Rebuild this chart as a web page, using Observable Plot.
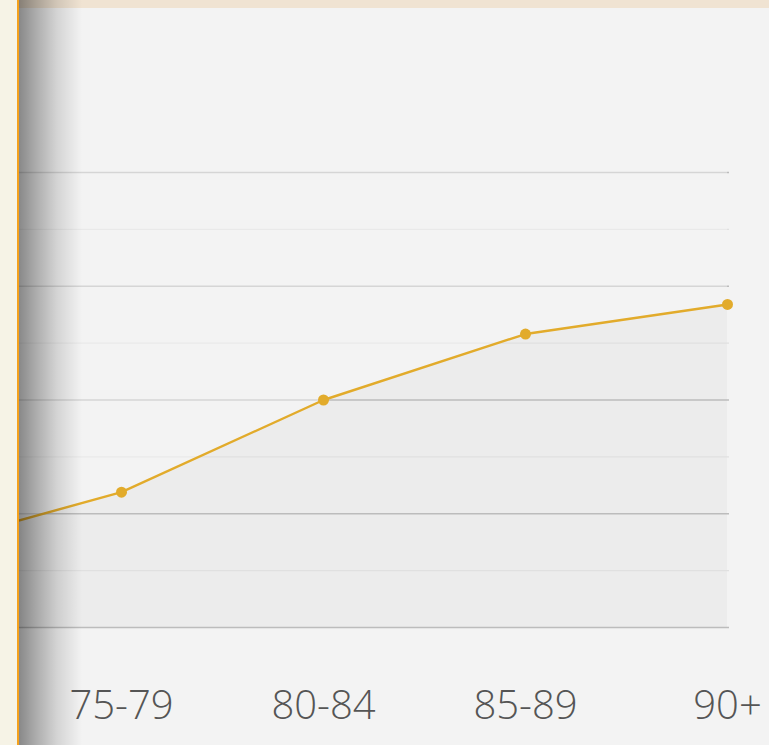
<!DOCTYPE html>
<html>
<head>
<meta charset="utf-8">
<script src="https://cdn.jsdelivr.net/npm/d3@7"></script>
<script src="https://cdn.jsdelivr.net/npm/@observablehq/plot@0.6"></script>
<style>
  html, body { margin: 0; padding: 0; background: #f3f3f3; overflow: hidden; }
  #wrap { position: relative; width: 769px; height: 745px; }
  #chart svg { display: block; }
  .ov { position: absolute; pointer-events: none; }
</style>
</head>
<body>
<div id="wrap">
  <div id="chart"></div>
  <div class="ov" style="left:19px;top:0;width:750px;height:8px;background:#f0e3d2;"></div>
  <div class="ov" style="left:0;top:0;width:17px;height:745px;background:#f6f3e6;"></div>
  <div class="ov" style="left:17px;top:0;width:2px;height:745px;background:#f5a11c;"></div>
  <div class="ov" style="left:19px;top:0;width:63px;height:745px;background:linear-gradient(to right, rgba(0,0,0,0.44), rgba(0,0,0,0.30) 25%, rgba(0,0,0,0.13) 60%, rgba(0,0,0,0));"></div>
</div>
<script>
const ageGroups = ["70-74", "75-79", "80-84", "85-89", "90+"];
const values = [7.0, 11.9, 20.0, 25.8, 28.4];
const majorTicks = [0, 10, 20, 30, 40];
const minorTicks = [5, 15, 25, 35];
const skyTop = 42;

const data = ageGroups.map((g, i) => ({group: g, value: values[i]}));

const chart = Plot.plot({
  width: 769,
  height: 745,
  marginLeft: 19,
  marginRight: 40,
  marginTop: 8,
  marginBottom: 118,
  style: {background: "#f3f3f3", fontFamily: "'Open Sans', sans-serif"},
  x: {type: "point", domain: ageGroups, range: [-82, 728], padding: 0},
  y: {domain: [0, 40], range: [627, 172]},
  marks: [
    Plot.areaY(data, {x: "group", y: "value", fill: "#ececec", clip: "frame"}),
    Plot.ruleY(minorTicks, {stroke: "#e0e0e0", strokeWidth: 1.2}),
    Plot.ruleY(majorTicks, {stroke: "#bcbcbc", strokeWidth: 1.5}),
    Plot.areaY(data, {x: "group", y1: "value", y2: () => skyTop, fill: "#f3f3f3", fillOpacity: 0.45, clip: "frame"}),
    Plot.lineY(data, {x: "group", y: "value", stroke: "#e2ab2b", strokeWidth: 2.4, clip: "frame"}),
    Plot.dot(data.slice(1), {x: "group", y: "value", r: 5.5, fill: "#e2ab2b"}),
    Plot.axisX(ageGroups.slice(1), {
      anchor: "bottom", tickSize: 0, tickPadding: 63, fontSize: 40,
      fontWeight: 300, fill: "#555555", label: null
    }),
    Plot.axisY({ticks: [], label: null})
  ]
});
document.getElementById("chart").append(chart);
</script>
</body>
</html>
